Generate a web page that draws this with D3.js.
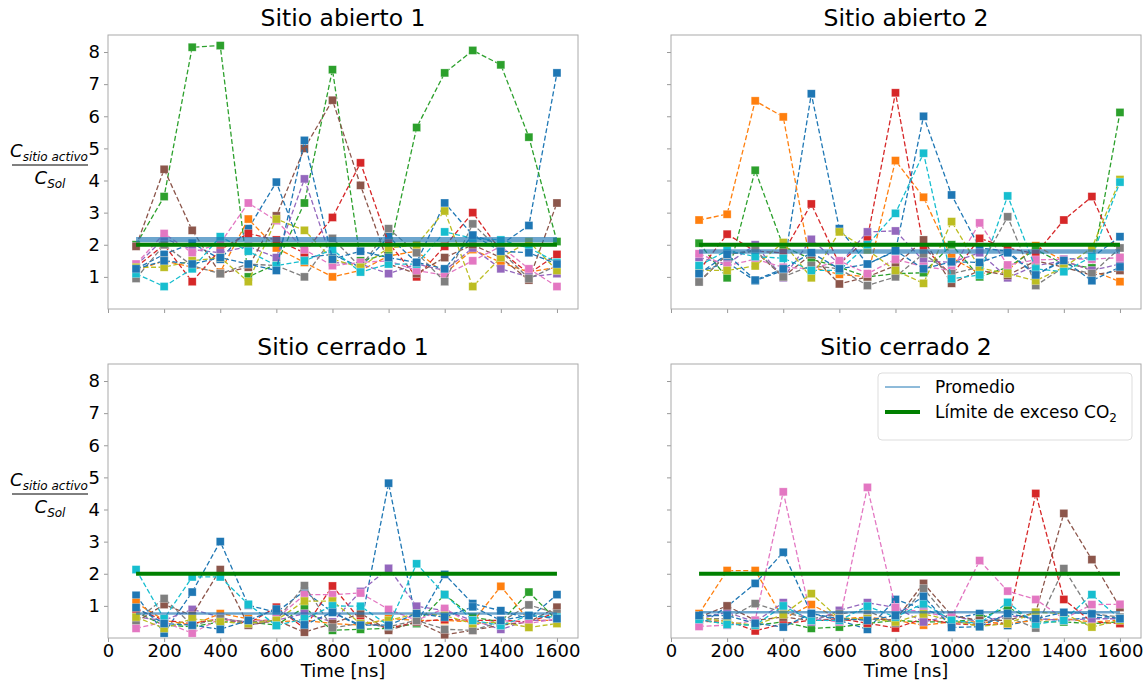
<!DOCTYPE html>
<html>
<head>
<meta charset="utf-8">
<script src="https://cdn.jsdelivr.net/npm/d3@7"></script>
<style>
  body { margin: 0; background: #fff; }
  text { font-family: "DejaVu Sans", sans-serif; }
</style>
</head>
<body>
<div class="canvas"></div>
<script>
const times = [100, 200, 300, 400, 500, 600, 700, 800, 900, 1000, 1100, 1200, 1300, 1400, 1500, 1600]
const xTicks = [0, 200, 400, 600, 800, 1000, 1200, 1400, 1600]
const yTicks = [1, 2, 3, 4, 5, 6, 7, 8]
const titles = ["Sitio abierto 1", "Sitio abierto 2", "Sitio cerrado 1", "Sitio cerrado 2"]
const colors = ["#1f77b4", "#ff7f0e", "#2ca02c", "#d62728", "#9467bd", "#8c564b", "#e377c2", "#7f7f7f", "#bcbd22", "#17becf", "#1f77b4"]
const limite = 2
const promedioLo = [2.08, 1.72, 0.73, 0.76]
const promedioHi = [2.24, 1.86, 0.79, 0.84]

const abierto1 = [
  [1.25, 1.7, 2.05, 1.55, 2.5, 3.95, 1.6, 1.7, 1.3, 2.25, 1.45, 3.3, 2.3, 2.0, 2.6, 7.35],
  [1.2, 1.5, 1.3, 1.15, 2.8, 1.9, 1.45, 1.0, 1.2, 1.65, 1.8, 1.1, 1.85, 1.45, 1.15, 1.3],
  [2.0, 3.5, 8.15, 8.2, 1.0, 1.4, 3.3, 7.45, 1.5, 1.7, 5.65, 7.35, 8.05, 7.6, 5.35, 2.1],
  [1.3, 2.0, 0.85, 1.85, 2.35, 2.15, 1.75, 2.85, 4.55, 2.05, 1.0, 1.95, 3.0, 1.8, 1.1, 1.7],
  [1.35, 2.2, 1.85, 1.75, 1.95, 1.6, 4.05, 1.45, 1.4, 1.1, 1.4, 1.2, 1.9, 1.25, 1.0, 1.1],
  [1.95, 4.35, 2.45, 1.1, 1.3, 2.9, 5.0, 6.5, 3.85, 1.4, 1.1, 1.6, 2.0, 1.6, 0.9, 3.3],
  [1.4, 2.35, 1.75, 2.05, 3.3, 2.75, 1.85, 1.35, 1.45, 1.5, 1.2, 1.05, 1.5, 1.95, 1.25, 0.7],
  [0.95, 2.0, 1.35, 1.1, 1.4, 1.35, 1.0, 2.2, 1.3, 2.5, 1.75, 0.85, 2.65, 1.8, 0.95, 1.35],
  [1.3, 1.3, 1.5, 1.6, 0.85, 2.8, 2.45, 1.55, 1.3, 1.9, 2.0, 3.05, 0.7, 1.6, 2.1, 1.2],
  [1.1, 0.7, 1.25, 2.25, 1.8, 1.35, 1.5, 1.85, 1.15, 1.4, 1.4, 2.4, 2.2, 2.15, 1.9, 1.45],
  [1.25, 1.5, 1.4, 1.6, 1.4, 1.2, 5.25, 1.55, 1.8, 1.6, 1.45, 1.25, 2.3, 1.8, 1.75, 1.4]
]

const abierto2 = [
  [1.15, 1.45, 0.88, 1.2, 6.7, 2.5, 1.4, 1.8, 6.0, 3.55, 1.9, 1.8, 1.06, 1.55, 1.6, 2.25],
  [2.77, 2.95, 6.48, 5.98, 1.3, 1.08, 1.0, 4.62, 3.48, 1.6, 1.1, 1.2, 1.97, 1.5, 1.2, 0.85],
  [2.05, 0.97, 4.32, 1.95, 1.55, 1.3, 1.0, 1.1, 1.13, 2.0, 1.0, 1.3, 1.85, 1.4, 1.28, 6.12],
  [1.2, 2.33, 1.8, 1.75, 3.27, 1.4, 2.2, 6.73, 1.93, 1.05, 2.2, 1.9, 1.72, 2.77, 3.5, 1.6],
  [1.6, 1.4, 2.0, 0.97, 2.17, 1.4, 2.4, 2.43, 1.5, 1.45, 1.75, 0.97, 1.35, 1.5, 1.2, 1.4],
  [0.85, 1.7, 1.8, 1.0, 1.7, 0.78, 1.0, 1.35, 2.15, 0.8, 1.2, 1.05, 1.5, 1.3, 1.05, 1.2],
  [1.72, 1.35, 1.55, 1.3, 1.25, 1.5, 1.1, 1.55, 1.32, 1.2, 2.68, 1.37, 1.53, 1.55, 1.55, 1.6],
  [0.84, 1.7, 1.84, 1.0, 1.35, 1.25, 0.73, 1.0, 1.72, 1.1, 1.3, 2.87, 0.73, 1.3, 1.1, 1.9],
  [1.2, 1.2, 1.34, 2.07, 0.97, 2.4, 1.84, 1.2, 0.8, 2.72, 1.28, 1.1, 0.88, 1.3, 1.9, 4.03],
  [1.35, 1.82, 1.63, 1.58, 1.2, 1.2, 2.0, 2.98, 4.85, 0.94, 1.06, 3.52, 1.25, 1.16, 1.63, 3.95],
  [1.1, 1.7, 0.9, 1.25, 1.75, 1.25, 1.4, 1.82, 1.25, 1.47, 1.45, 1.75, 1.06, 1.51, 0.88, 1.31]
]

const cerrado1 = [
  [1.33, 0.15, 1.43, 3.0, 1.02, 0.8, 1.46, 0.8, 0.36, 4.82, 0.46, 1.98, 1.07, 0.85, 0.6, 1.35],
  [1.1, 0.55, 0.4, 0.76, 0.6, 0.5, 0.55, 0.45, 0.4, 0.6, 0.55, 0.55, 0.5, 1.61, 0.55, 0.55],
  [0.8, 0.4, 0.35, 0.5, 0.5, 0.4, 0.95, 0.24, 0.27, 0.3, 0.45, 1.35, 0.65, 0.5, 1.43, 0.55],
  [0.9, 0.55, 0.45, 0.6, 0.45, 0.96, 0.3, 1.62, 0.55, 0.3, 0.5, 0.58, 0.55, 0.55, 0.5, 0.79],
  [0.65, 0.55, 0.89, 0.65, 0.4, 0.55, 0.76, 0.5, 1.45, 2.17, 0.99, 0.85, 0.55, 0.27, 0.55, 0.55],
  [0.5, 1.04, 0.7, 2.13, 0.4, 0.55, 0.18, 0.45, 0.77, 0.24, 0.5, 0.1, 0.24, 0.4, 0.5, 0.96],
  [0.3, 0.5, 0.15, 0.6, 0.5, 0.6, 1.35, 1.35, 1.4, 0.89, 0.55, 0.92, 0.4, 0.55, 0.45, 0.6],
  [0.55, 1.23, 0.4, 0.6, 0.5, 0.55, 1.63, 0.32, 0.45, 0.35, 0.55, 0.27, 0.24, 0.5, 1.03, 0.76],
  [0.65, 0.3, 0.6, 0.5, 0.45, 0.55, 1.15, 1.15, 0.45, 0.55, 0.76, 0.7, 0.45, 0.5, 0.33, 0.45],
  [2.13, 0.6, 1.9, 1.9, 1.05, 0.39, 0.6, 1.0, 0.99, 0.39, 2.31, 1.35, 0.55, 0.39, 0.7, 0.65],
  [0.95, 0.45, 0.4, 0.27, 0.55, 0.9, 0.41, 0.8, 0.4, 0.4, 0.76, 0.65, 0.97, 0.55, 0.7, 0.6]
]

const cerrado2 = [
  [0.39, 0.98, 1.7, 2.67, 0.76, 0.55, 0.27, 1.2, 0.9, 0.6, 0.76, 0.39, 0.6, 0.55, 0.65, 0.6],
  [0.76, 2.1, 2.1, 0.6, 1.04, 0.6, 0.65, 0.55, 0.4, 0.5, 0.5, 0.45, 0.55, 0.6, 0.5, 0.55],
  [0.55, 0.45, 0.4, 0.5, 0.3, 0.34, 0.45, 0.55, 0.5, 0.5, 0.6, 0.96, 0.5, 0.5, 0.45, 0.5],
  [0.5, 0.55, 0.22, 0.45, 0.55, 0.6, 0.46, 0.31, 0.6, 0.45, 0.4, 0.45, 4.5, 1.2, 0.5, 0.45],
  [0.6, 0.8, 0.5, 1.1, 0.5, 0.86, 1.1, 0.95, 0.5, 0.7, 0.5, 0.7, 0.6, 0.55, 0.6, 0.6],
  [0.65, 1.0, 0.55, 0.65, 0.55, 0.55, 0.6, 0.55, 1.7, 0.7, 0.55, 0.55, 0.8, 3.88, 2.44, 0.95],
  [0.36, 0.4, 0.55, 4.55, 0.6, 0.5, 4.69, 0.95, 0.8, 0.65, 2.41, 1.46, 1.2, 0.6, 1.04, 1.05],
  [0.6, 0.6, 1.07, 0.8, 0.6, 0.75, 0.85, 0.46, 1.54, 0.5, 0.45, 0.65, 0.31, 2.16, 0.76, 0.65],
  [0.65, 0.5, 0.4, 0.73, 1.38, 0.6, 0.6, 0.5, 0.75, 0.55, 0.36, 0.45, 0.8, 0.76, 0.34, 0.55],
  [0.58, 0.42, 0.4, 1.0, 0.55, 0.55, 0.99, 0.65, 1.08, 0.55, 0.45, 1.11, 0.43, 0.55, 1.35, 0.6],
  [0.7, 0.7, 0.46, 0.34, 0.76, 0.6, 0.55, 0.7, 1.3, 0.33, 0.35, 0.76, 0.6, 0.8, 0.75, 0.6]
]

const panels = [abierto1, abierto2, cerrado1, cerrado2]

const width = 1144
const height = 681
const plotW = 470
const plotH = 274
const origins = [
  { left: 108, top: 35 },
  { left: 671, top: 35 },
  { left: 108, top: 364 },
  { left: 671, top: 364 }
]

const svg = d3.select(".canvas")
  .append('svg')
    .attr('width', width)
    .attr('height', height)

const x = d3.scaleLinear()
  .domain([0, 1675])
  .range([0, plotW])

const y = d3.scaleLinear()
  .domain([0, 8.53])
  .range([plotH, 0])

const line = d3.line()
  .x((d, i) => x(times[i]))
  .y(d => y(d))

panels.forEach((series, p) => {
  const o = origins[p]
  const g = svg.append('g')
    .attr('transform', `translate(${o.left}, ${o.top})`)

  // axes
  const xAxis = d3.axisBottom(x).tickValues(xTicks).tickSize(4).tickPadding(2)
    .tickFormat(d3.format('d'))
  const yAxis = d3.axisLeft(y).tickValues(yTicks).tickSize(4).tickPadding(4)
  if (p < 2) xAxis.tickFormat('')
  if (p % 2 === 1) yAxis.tickFormat('')

  const xg = g.append('g').attr('transform', `translate(0, ${plotH})`).call(xAxis)
  const yg = g.append('g').call(yAxis)
  ;[xg, yg].forEach(a => {
    a.select('.domain').remove()
    a.selectAll('line').attr('stroke', '#999')
    a.selectAll('text')
      .attr('fill', '#000')
      .style('font-size', '18px')
      .style('font-family', '"DejaVu Sans", sans-serif')
  })

  g.append('rect')
    .attr('width', plotW)
    .attr('height', plotH)
    .attr('fill', 'none')
    .attr('stroke', '#aaa')
    .attr('stroke-width', 1)

  // series
  series.forEach((vals, s) => {
    const c = colors[s]
    g.append('path')
      .datum(vals)
      .attr('d', line)
      .attr('fill', 'none')
      .attr('stroke', c)
      .attr('stroke-width', 1.3)
      .attr('stroke-dasharray', '5,2.5')
    g.selectAll(null)
      .data(vals)
      .enter()
      .append('rect')
        .attr('x', (d, i) => x(times[i]) - 4)
        .attr('y', d => y(d) - 4)
        .attr('width', 8)
        .attr('height', 8)
        .attr('fill', c)
        .attr('stroke', '#fff')
        .attr('stroke-opacity', 0.5)
        .attr('stroke-width', 0.6)
  })

  // promedio band
  const mid = (promedioLo[p] + promedioHi[p]) / 2
  g.append('line')
    .attr('x1', x(times[0]))
    .attr('x2', x(times[times.length - 1]))
    .attr('y1', y(mid))
    .attr('y2', y(mid))
    .attr('stroke', '#1f77b4')
    .attr('stroke-opacity', 0.65)
    .attr('stroke-width', Math.max(2.5, y(promedioLo[p]) - y(promedioHi[p])))

  // limite CO2
  g.append('line')
    .attr('x1', x(times[0]))
    .attr('x2', x(times[times.length - 1]))
    .attr('y1', y(limite))
    .attr('y2', y(limite))
    .attr('stroke', 'green')
    .attr('stroke-width', 4)

  // title
  g.append('text')
    .attr('x', plotW / 2)
    .attr('y', -9)
    .attr('text-anchor', 'middle')
    .style('font-size', '23.5px')
    .text(titles[p])

  if (p >= 2) {
    g.append('text')
      .attr('x', plotW / 2)
      .attr('y', plotH + 39)
      .attr('text-anchor', 'middle')
      .style('font-size', '18px')
      .text('Time [ns]')
  }

  if (p % 2 === 0) {
    const lab = g.append('g').attr('transform', `translate(-58, ${plotH / 2 - 7})`)
    const num = lab.append('text')
      .attr('x', -1)
      .attr('y', -8)
      .attr('text-anchor', 'middle')
      .style('font-size', '18px')
    num.append('tspan').style('font-style', 'italic').text('C')
    num.append('tspan').style('font-style', 'italic').style('font-size', '12px')
      .attr('dy', 4).text('sitio activo')
    lab.append('line')
      .attr('x1', -38).attr('x2', 38)
      .attr('y1', 0).attr('y2', 0)
      .attr('stroke', '#000').attr('stroke-width', 1)
    const den = lab.append('text')
      .attr('x', 0)
      .attr('y', 19)
      .attr('text-anchor', 'middle')
      .style('font-size', '18px')
    den.append('tspan').style('font-style', 'italic').text('C')
    den.append('tspan').style('font-style', 'italic').style('font-size', '12px')
      .attr('dy', 4).text('Sol')
  }

  if (p === 3) {
    const leg = g.append('g').attr('transform', 'translate(207, 9)')
    leg.append('rect')
      .attr('width', 254).attr('height', 67)
      .attr('rx', 4)
      .attr('fill', '#fff').attr('fill-opacity', 0.8)
      .attr('stroke', '#ddd')
    leg.append('line')
      .attr('x1', 7).attr('x2', 42).attr('y1', 14).attr('y2', 14)
      .attr('stroke', '#1f77b4').attr('stroke-width', 1)
    leg.append('text')
      .attr('x', 57).attr('y', 20)
      .style('font-size', '17px')
      .text('Promedio')
    leg.append('line')
      .attr('x1', 7).attr('x2', 42).attr('y1', 39).attr('y2', 39)
      .attr('stroke', 'green').attr('stroke-width', 4)
    const t = leg.append('text')
      .attr('x', 57).attr('y', 45)
      .style('font-size', '17px')
    t.append('tspan').text('Límite de exceso CO')
    t.append('tspan').style('font-size', '12px').attr('dy', 4).text('2')
  }
})
</script>
</body>
</html>
